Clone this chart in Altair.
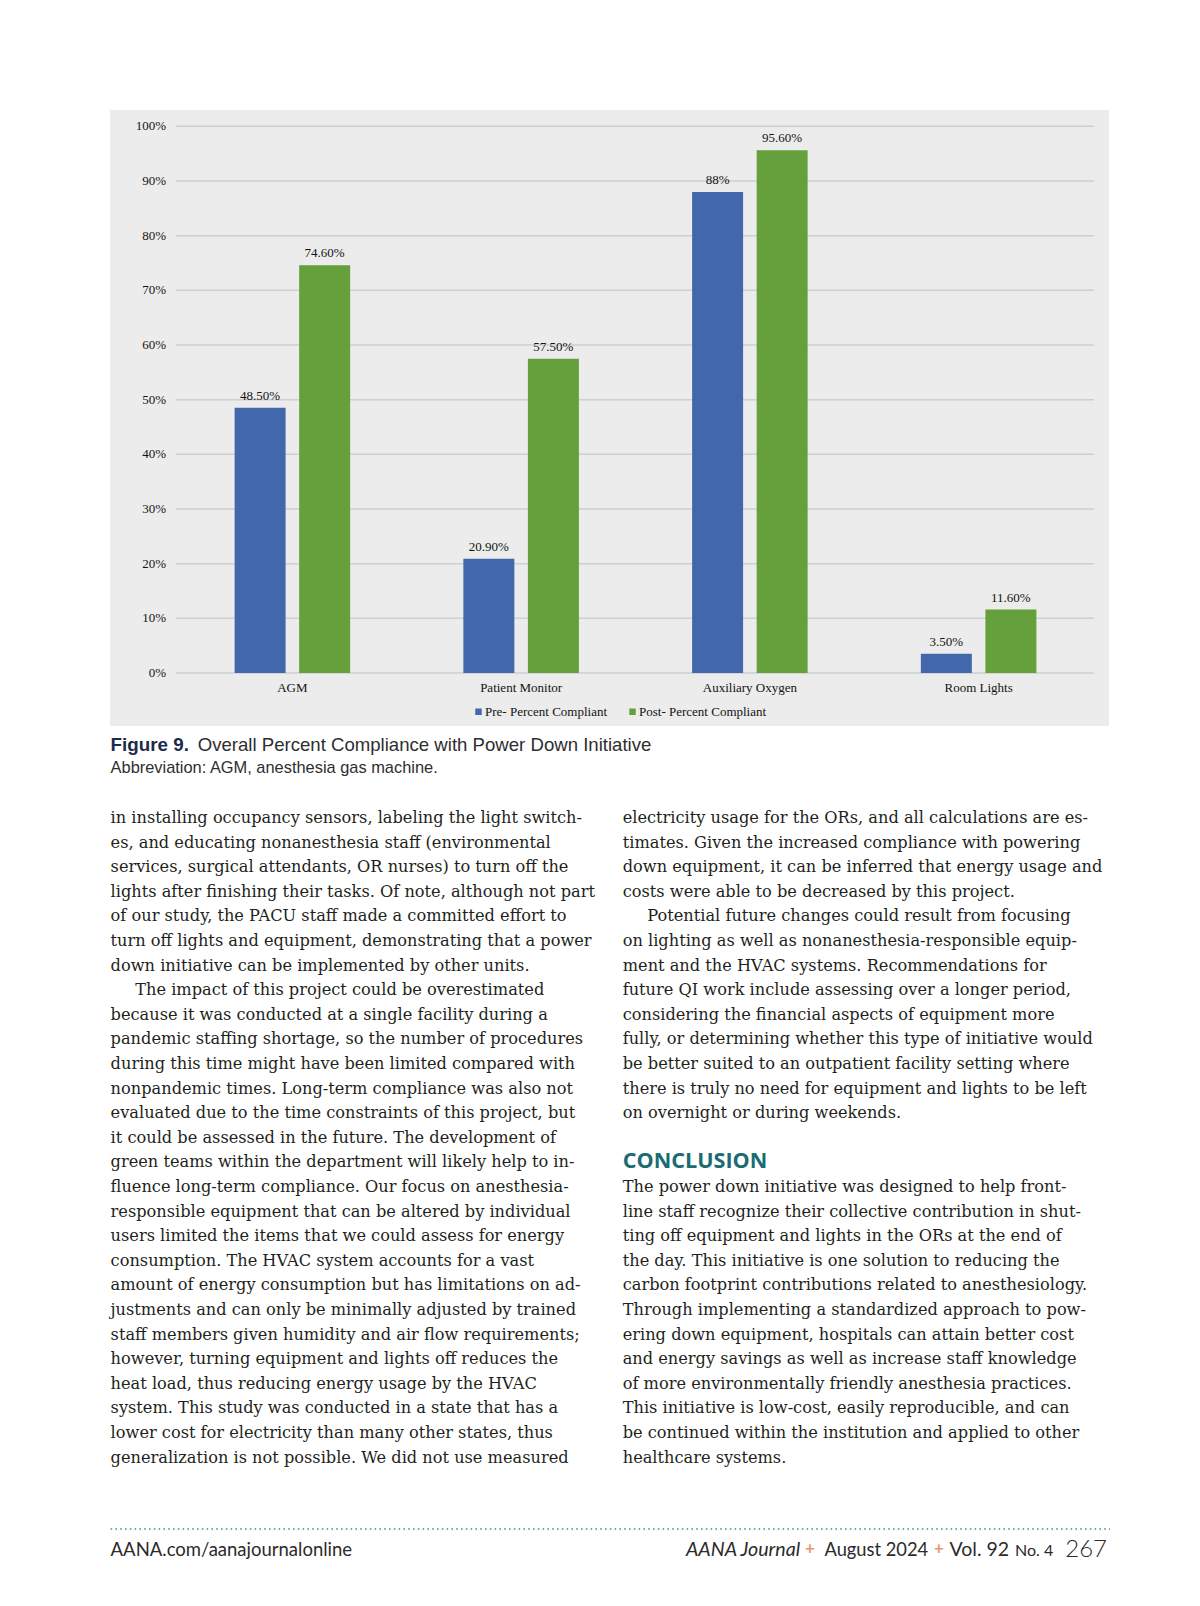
import altair as alt
import pandas as pd

# ---------------- chart data ----------------
categories = ["AGM", "Patient Monitor", "Auxiliary Oxygen", "Room Lights"]
series = ["Pre- Percent Compliant", "Post- Percent Compliant"]
pre_values = [48.5, 20.9, 88.0, 3.5]
post_values = [74.6, 57.5, 95.6, 11.6]
pre_labels = ["48.50%", "20.90%", "88%", "3.50%"]
post_labels = ["74.60%", "57.50%", "95.60%", "11.60%"]
y_ticks = [0, 10, 20, 30, 40, 50, 60, 70, 80, 90, 100]
y_tick_labels = ["0%", "10%", "20%", "30%", "40%", "50%", "60%", "70%", "80%", "90%", "100%"]
series_colors = ["#4267ab", "#66a03c"]

# ---------------- page text ----------------
caption_bold = "Figure 9."
caption_rest = "Overall Percent Compliance with Power Down Initiative"
caption_abbrev = "Abbreviation: AGM, anesthesia gas machine."

left_lines = [
    "in installing occupancy sensors, labeling the light switch-",
    "es, and educating nonanesthesia staff (environmental",
    "services, surgical attendants, OR nurses) to turn off the",
    "lights after finishing their tasks. Of note, although not part",
    "of our study, the PACU staff made a committed effort to",
    "turn off lights and equipment, demonstrating that a power",
    "down initiative can be implemented by other units.",
    "The impact of this project could be overestimated",
    "because it was conducted at a single facility during a",
    "pandemic staffing shortage, so the number of procedures",
    "during this time might have been limited compared with",
    "nonpandemic times. Long-term compliance was also not",
    "evaluated due to the time constraints of this project, but",
    "it could be assessed in the future. The development of",
    "green teams within the department will likely help to in-",
    "fluence long-term compliance. Our focus on anesthesia-",
    "responsible equipment that can be altered by individual",
    "users limited the items that we could assess for energy",
    "consumption. The HVAC system accounts for a vast",
    "amount of energy consumption but has limitations on ad-",
    "justments and can only be minimally adjusted by trained",
    "staff members given humidity and air flow requirements;",
    "however, turning equipment and lights off reduces the",
    "heat load, thus reducing energy usage by the HVAC",
    "system. This study was conducted in a state that has a",
    "lower cost for electricity than many other states, thus",
    "generalization is not possible. We did not use measured",
]
left_indent = [0] * 27
left_indent[7] = 1
right_lines_a = [
    "electricity usage for the ORs, and all calculations are es-",
    "timates. Given the increased compliance with powering",
    "down equipment, it can be inferred that energy usage and",
    "costs were able to be decreased by this project.",
    "Potential future changes could result from focusing",
    "on lighting as well as nonanesthesia-responsible equip-",
    "ment and the HVAC systems. Recommendations for",
    "future QI work include assessing over a longer period,",
    "considering the financial aspects of equipment more",
    "fully, or determining whether this type of initiative would",
    "be better suited to an outpatient facility setting where",
    "there is truly no need for equipment and lights to be left",
    "on overnight or during weekends.",
]
right_indent_a = [0] * 13
right_indent_a[4] = 1
heading = "CONCLUSION"
right_lines_b = [
    "The power down initiative was designed to help front-",
    "line staff recognize their collective contribution in shut-",
    "ting off equipment and lights in the ORs at the end of",
    "the day. This initiative is one solution to reducing the",
    "carbon footprint contributions related to anesthesiology.",
    "Through implementing a standardized approach to pow-",
    "ering down equipment, hospitals can attain better cost",
    "and energy savings as well as increase staff knowledge",
    "of more environmentally friendly anesthesia practices.",
    "This initiative is low-cost, easily reproducible, and can",
    "be continued within the institution and applied to other",
    "healthcare systems.",
]
footer_left = "AANA.com/aanajournalonline"
footer_journal = "AANA Journal"
footer_date = "August 2024"
footer_vol = "Vol. 92"
footer_no = "No. 4"
footer_page = "267"

# ---------------- tables ----------------
bars_df = pd.DataFrame(
    [{"category": c, "series": series[0], "value": v, "label": l}
     for c, v, l in zip(categories, pre_values, pre_labels)]
    + [{"category": c, "series": series[1], "value": v, "label": l}
       for c, v, l in zip(categories, post_values, post_labels)]
)
ticks_df = pd.DataFrame({"tick": y_ticks, "tlabel": y_tick_labels})
cats_df = pd.DataFrame({"category": categories})

left_df = pd.DataFrame({"row": list(range(len(left_lines))), "t": left_lines, "indent": left_indent})
right_df = pd.DataFrame(
    {"row": list(range(len(right_lines_a))) + [15 + i for i in range(len(right_lines_b))],
     "t": right_lines_a + right_lines_b,
     "indent": right_indent_a + [0] * len(right_lines_b)}
)

SERIF = "Liberation Serif"
BODY = "DejaVu Serif"
X_SCALE = alt.Scale(domain=categories, range=[170, 1085], paddingInner=0, paddingOuter=0)
XOFF_SCALE = alt.Scale(domain=series, range=[0, 228.75], paddingInner=0.21, paddingOuter=0.877)
Y_SCALE = alt.Scale(domain=[0, 100], range=[665, 118.3], nice=False, zero=True)
ROW_SCALE = alt.Scale(domain=[0, 26], range=[810, 1449.5], nice=False, zero=False)

# ---------------- chart layers ----------------
bg = alt.Chart(pd.DataFrame({"a": [0]})).mark_rect(color="#ebeceb").encode(
    x=alt.value(102), x2=alt.value(1101), y=alt.value(102), y2=alt.value(718)
)

grid = alt.Chart(ticks_df).mark_rule(color="#cdd0cf", strokeWidth=1.5).encode(
    x=alt.value(168), x2=alt.value(1086),
    y=alt.Y("tick:Q", scale=Y_SCALE, axis=None),
)
ylabels = alt.Chart(ticks_df).mark_text(
    font=SERIF, fontSize=13, color="#141414", align="right", baseline="middle"
).encode(
    x=alt.value(158),
    y=alt.Y("tick:Q", scale=Y_SCALE, axis=None),
    text="tlabel:N",
)
bars = alt.Chart(bars_df).mark_bar().encode(
    x=alt.X("category:N", scale=X_SCALE, axis=None, sort=categories),
    xOffset=alt.XOffset("series:N", scale=XOFF_SCALE, sort=series),
    y=alt.Y("value:Q", scale=Y_SCALE, axis=None),
    color=alt.Color(
        "series:N",
        sort=series,
        scale=alt.Scale(domain=series, range=series_colors),
        legend=alt.Legend(
            orient="none", legendX=464, legendY=697, direction="horizontal",
            title=None, symbolType="square", symbolSize=42, symbolStrokeWidth=0,
            labelFont=SERIF, labelFontSize=13, labelColor="#141414",
            labelOffset=0, columnPadding=18, padding=0,
        ),
    ),
)
vlabels = alt.Chart(bars_df).mark_text(
    font=SERIF, fontSize=13, color="#141414", baseline="bottom", dy=-5
).encode(
    x=alt.X("category:N", scale=X_SCALE, axis=None, sort=categories),
    xOffset=alt.XOffset("series:N", scale=XOFF_SCALE, sort=series),
    y=alt.Y("value:Q", scale=Y_SCALE, axis=None),
    text="label:N",
)
xlabels = alt.Chart(cats_df).mark_text(
    font=SERIF, fontSize=13, color="#141414", baseline="middle"
).encode(
    x=alt.X("category:N", scale=X_SCALE, axis=None, sort=categories),
    y=alt.value(680),
    text="category:N",
)
bar_group = alt.layer(grid, ylabels, bars, vlabels, xlabels)

# ---------------- page text layers ----------------
one = pd.DataFrame({"a": [0]})


def label(txt, x, y, **kw):
    return alt.Chart(pd.DataFrame({"t": [txt]})).mark_text(**kw).encode(
        x=alt.value(x), y=alt.value(y), text="t:N"
    )


cap1 = label(caption_bold, 102.6, 736.8, font="Liberation Sans", fontSize=18.8,
             fontWeight="bold", color="#1b2c4a", align="left", baseline="middle")
cap2 = label(caption_rest, 189.7, 736.8, font="Liberation Sans", fontSize=18.6,
             color="#2e2e2e", align="left", baseline="middle")
cap3 = label(caption_abbrev, 102.6, 760, font="Liberation Sans", fontSize=16.4,
             color="#2e2e2e", align="left", baseline="middle")


def body(df, x0):
    return alt.Chart(df).mark_text(
        font=BODY, fontSize=16.2, color="#231f20", align="left", baseline="middle"
    ).encode(
        x=alt.X("indent:Q", scale=alt.Scale(domain=[0, 1], range=[x0, x0 + 24.6]), axis=None),
        y=alt.Y("row:Q", scale=ROW_SCALE, axis=None),
        text="t:N",
    )


body_left = body(left_df, 102.6)
body_right = body(right_df, 614.7)
head = label(heading, 614.7, 1153.5, font="Open Sans", fontSize=21.6,
             fontWeight="bold", color="#1a6b72", align="left", baseline="middle")

dots = alt.Chart(one).mark_rule(color="#3f9499", strokeWidth=1.6, strokeDash=[1.6, 3.2]).encode(
    x=alt.value(102.6), x2=alt.value(1102), y=alt.value(1521)
)
FC = "#2b2b2b"
f1 = label(footer_left, 102.6, 1548, align="left", font="Lato", fontSize=18.5,
           color=FC, baseline="alphabetic")
f2 = label(footer_journal, 678, 1548, align="left", fontStyle="italic", font="Lato",
           fontSize=19.6, color=FC, baseline="alphabetic")
f3 = label("+", 802, 1546, align="center", font="Lato", fontSize=17, fontWeight="bold",
           color="#e59a6a", baseline="alphabetic")
f4 = label(footer_date, 816.5, 1548, align="left", font="Lato", fontSize=18.3,
           color=FC, baseline="alphabetic")
f5 = label("+", 931, 1546, align="center", font="Lato", fontSize=17, fontWeight="bold",
           color="#e59a6a", baseline="alphabetic")
f6 = label(footer_vol, 941.5, 1548, align="left", font="Lato", fontSize=19.5,
           color=FC, baseline="alphabetic")
f7 = label(footer_no, 1007, 1548, align="left", font="Lato", fontSize=16,
           color=FC, baseline="alphabetic")
f8 = label(footer_page, 1099, 1549, align="right", font="Lato", fontSize=24,
           fontWeight=300, color=FC, baseline="alphabetic")

chart = alt.layer(
    bg, bar_group, cap1, cap2, cap3, body_left, body_right, head,
    dots, f1, f2, f3, f4, f5, f6, f7, f8,
).resolve_scale(x="independent", y="independent").properties(
    width=1184, height=1590, padding=0,
    autosize=alt.AutoSizeParams(type="none"), background="white",
).configure_view(stroke=None)

chart.save("out.html", embed_options={"renderer": "svg", "actions": False})
